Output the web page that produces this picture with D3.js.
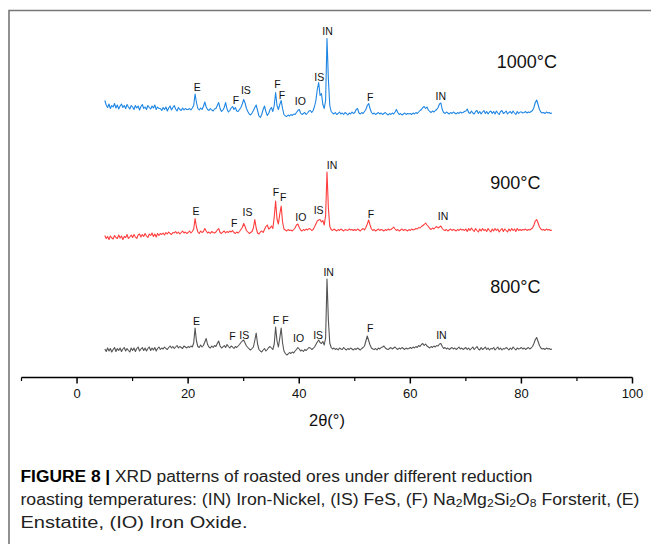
<!DOCTYPE html>
<html>
<head>
<meta charset="utf-8">
<script src="https://cdn.jsdelivr.net/npm/d3@7"></script>
<style>
  html, body { margin: 0; padding: 0; background: #fff; }
  svg { display: block; }
</style>
</head>
<body>
<svg id="chart" width="651" height="544"></svg>
<script>
// XRD scans: 2θ from 5° in 0.25° steps, intensity in arbitrary units
const twoThetaStart = 5;
const twoThetaStep = 0.25;

const temperatures = ["800°C", "900°C", "1000°C"];

const intensity800 = [
  18,13,20,14,19,12,17,21,13,19,15,20,13,18,21,14,19,15,12,20,
  15,20,13,19,22,14,18,21,15,20,14,19,22,15,20,16,21,14,19,22,
  17,20,18,22,19,17,21,24,20,23,19,22,25,20,23,21,19,24,22,20,
  23,21,24,22,30,60,34,23,21,26,22,25,32,39,27,22,20,24,21,25,
  23,29,34,24,20,22,25,21,27,23,20,24,22,19,23,21,24,27,31,34,
  36,30,24,21,18,16,19,22,35,50,28,17,14,12,16,19,14,17,21,23,
  20,17,28,62,34,22,40,60,30,14,9,6,8,11,9,12,10,14,17,21,
  18,14,16,13,17,15,18,21,20,17,19,22,27,32,36,31,29,33,26,40,
  158,75,30,21,18,20,17,19,16,20,18,17,21,18,16,19,17,20,18,16,
  19,17,20,18,16,19,21,24,34,44,35,26,20,18,17,19,16,20,18,21,
  22,24,20,18,17,19,21,18,20,22,19,17,20,18,21,19,17,20,18,19,
  21,19,22,20,23,21,25,23,27,29,25,28,24,22,20,23,21,24,22,25,
  24,28,29,23,19,21,18,20,17,19,21,18,20,17,19,22,18,20,17,19,
  21,17,20,16,19,22,17,20,23,18,16,21,17,19,22,17,20,16,19,18,
  21,16,19,22,17,20,16,19,18,21,19,16,20,17,22,19,16,20,18,19,
  21,18,20,17,19,21,18,20,23,29,37,41,33,25,20,18,19,17,20,18,
  19,17,18
];

const intensity900 = [
  15,9,13,7,14,10,8,15,11,9,16,10,14,7,13,11,17,9,12,16,
  11,17,12,9,16,18,12,17,13,19,14,11,18,15,20,13,18,12,19,15,
  19,17,20,16,21,18,22,19,17,21,20,23,19,22,18,21,24,20,22,19,
  21,24,20,23,28,49,32,22,19,24,21,23,29,24,20,22,19,23,21,20,
  22,26,29,21,19,22,24,20,23,21,24,22,25,21,19,22,20,23,27,31,
  39,33,25,22,19,21,23,30,47,30,20,18,22,24,21,27,33,36,28,30,
  34,29,52,84,48,38,58,74,42,28,26,24,27,25,26,24,27,30,36,38,
  31,26,24,27,25,28,26,29,28,25,27,32,38,44,46,47,42,45,36,55,
  142,70,33,27,25,28,26,24,27,25,28,26,24,27,26,25,28,26,27,25,
  27,25,28,26,24,27,29,26,31,38,46,36,28,25,27,24,26,28,25,27,
  26,24,27,25,28,26,27,29,32,28,25,27,24,26,28,25,27,26,24,27,
  25,28,26,27,29,28,31,30,33,35,37,40,36,33,29,27,30,28,31,33,
  30,32,34,29,26,25,27,24,26,28,25,27,26,24,27,25,28,26,27,25,
  28,23,29,25,30,26,23,29,25,22,28,24,29,25,27,23,29,25,22,28,
  24,29,25,28,22,26,29,23,28,25,22,28,24,29,25,28,23,29,25,27,
  25,27,26,28,25,27,26,28,30,36,44,47,40,32,28,26,27,25,28,26,
  27,25,26
];

const intensity1000 = [
  40,31,26,33,24,30,27,34,25,31,23,29,33,26,30,24,32,27,23,30,
  27,22,30,25,29,21,28,32,24,27,22,30,26,23,29,25,31,22,27,24,
  24,20,26,22,27,19,25,29,21,26,30,23,19,26,22,20,25,21,24,22,
  22,24,21,25,30,53,36,24,21,25,22,28,37,27,22,20,24,21,19,23,
  24,30,36,24,18,21,26,36,23,17,20,25,28,22,26,19,18,22,26,33,
  42,35,24,18,13,11,15,20,26,31,20,9,6,12,22,29,18,10,14,22,
  26,18,30,56,30,22,32,40,24,12,9,8,11,9,12,10,13,12,16,20,
  22,15,12,14,16,12,15,19,20,16,20,28,40,62,76,50,54,32,24,40,
  164,82,30,18,15,13,16,12,14,17,13,15,12,16,14,11,15,13,17,14,
  16,22,24,15,13,16,14,18,22,30,34,24,16,13,15,12,14,16,13,15,
  12,14,16,13,11,14,12,15,13,17,22,16,12,14,11,13,15,12,14,13,
  14,12,15,13,16,14,17,20,22,26,28,24,27,21,18,16,19,17,20,22,
  26,33,35,22,16,14,17,15,13,16,14,17,15,13,16,14,17,15,16,18,
  19,23,16,14,19,15,13,18,20,14,18,13,17,20,14,18,13,17,19,14,
  18,13,19,15,12,18,20,14,16,19,13,16,18,14,19,15,12,18,14,17,
  17,15,16,18,15,17,16,18,20,26,36,41,32,22,17,15,16,14,17,15,
  16,14,15
];

// Phase markers: [phase, 2θ, label level in intensity units]
const peaks800 = [
  ["E",21.5,74],["F",28.0,43],["IS",30.1,46],["F",35.8,76],["F",37.5,76],
  ["IO",39.9,39],["IS",43.4,46],["IN",45.3,171],["F",52.8,59],["IN",65.6,46]
];
const peaks900 = [
  ["E",21.4,64],["F",28.3,39],["IS",30.7,62],["F",35.8,101],["F",37.1,91],
  ["IO",40.3,51],["IS",43.5,66],["IN",45.9,156],["F",52.9,58],["IN",65.9,53]
];
const peaks1000 = [
  ["E",21.65,67],["F",28.6,41],["IS",30.4,61],["F",36.1,72],["F",36.9,51],
  ["IO",40.2,38],["IS",43.6,86],["IN",45.1,179],["F",52.8,46],["IN",65.5,48]
];

// Where each temperature tag sits: [2θ, intensity level]
const tagAt800 = [78.9, 143];
const tagAt900 = [78.9, 121];
const tagAt1000 = [81.0, 118];

const xMajorTicks = [0, 20, 40, 60, 80, 100];
const xMinorTicks = [-10, 10, 30, 50, 70, 90];
const xTitle = "2θ(°)";

const captionLine1 = [["FIGURE 8 | ", "bold"], ["XRD patterns of roasted ores under different reduction", ""]];
const captionLine2 = [
  ["roasting temperatures: (IN) Iron-Nickel, (IS) FeS, (F) Na", ""], ["2", "sub"],
  ["Mg", ""], ["2", "sub"], ["Si", ""], ["2", "sub"], ["O", ""], ["8", "sub"],
  [" Forsterit, (E)", ""]
];
const captionLine3 = [["Enstatite, (IO) Iron Oxide.", ""]];

// ---- drawing ----
const svg = d3.select("#chart");
const W = 651, H = 544;
svg.append("rect").attr("width", W).attr("height", H).attr("fill", "#fff");

// figure frame (top and left rules)
svg.append("path")
  .attr("d", `M9,${H} L9,10.5 L${W},10.5`)
  .attr("fill", "none").attr("stroke", "#777").attr("stroke-width", 1.6);

const x = d3.scaleLinear().domain([-10, 100]).range([21.5, 632.5]);
const y = d3.scaleLinear().domain([0, 700]).range([378, 28]);

const series = [
  { name: temperatures[0], values: intensity800, peaks: peaks800, tag: tagAt800, offset: 40, color: "#545454" },
  { name: temperatures[1], values: intensity900, peaks: peaks900, tag: tagAt900, offset: 270, color: "#ff3d3d" },
  { name: temperatures[2], values: intensity1000, peaks: peaks1000, tag: tagAt1000, offset: 515, color: "#1f86e3" }
];

const font = "'Liberation Sans', Arial, Helvetica, sans-serif";
const captionFont = "'Liberation Sans Narrow', 'Liberation Sans', Arial, sans-serif";

series.forEach(s => {
  const pts = s.values.map((v, i) => [twoThetaStart + i * twoThetaStep, v]);
  const line = d3.line()
    .x(d => x(d[0]))
    .y(d => y(s.offset + d[1]));
  svg.append("path")
    .datum(pts)
    .attr("d", line)
    .attr("fill", "none")
    .attr("stroke", s.color)
    .attr("stroke-width", 1.1)
    .attr("stroke-linejoin", "round");

  svg.append("g").selectAll("text")
    .data(s.peaks)
    .join("text")
    .attr("x", d => x(d[1]))
    .attr("y", d => y(s.offset + d[2]))
    .attr("dy", "0.36em")
    .attr("text-anchor", "middle")
    .attr("font-family", font)
    .attr("font-size", 10.5)
    .attr("fill", "#111")
    .text(d => d[0]);

  svg.append("text")
    .attr("x", x(s.tag[0]))
    .attr("y", y(s.offset + s.tag[1]))
    .attr("dy", "0.36em")
    .attr("text-anchor", "middle")
    .attr("font-family", font)
    .attr("font-size", 18)
    .attr("fill", "#111")
    .text(s.name);
});

// x axis
const axisY = 377.5;
const axisG = svg.append("g").attr("transform", `translate(0,${axisY})`);
axisG.append("line")
  .attr("x1", x(-10)).attr("x2", x(100))
  .attr("stroke", "#000").attr("stroke-width", 1.5);
axisG.selectAll("line.major")
  .data(xMajorTicks).join("line").attr("class", "major")
  .attr("x1", d => x(d)).attr("x2", d => x(d))
  .attr("y1", 0).attr("y2", 6)
  .attr("stroke", "#000").attr("stroke-width", 1.5);
axisG.selectAll("line.minor")
  .data(xMinorTicks).join("line").attr("class", "minor")
  .attr("x1", d => x(d)).attr("x2", d => x(d))
  .attr("y1", 0).attr("y2", 3.5)
  .attr("stroke", "#000").attr("stroke-width", 1.2);
axisG.selectAll("text.tick")
  .data(xMajorTicks).join("text").attr("class", "tick")
  .attr("x", d => x(d)).attr("y", 20.5)
  .attr("text-anchor", "middle")
  .attr("font-family", font).attr("font-size", 13)
  .attr("fill", "#111")
  .text(d => d);
svg.append("text")
  .attr("x", x(45)).attr("y", 426)
  .attr("text-anchor", "middle")
  .attr("font-family", font).attr("font-size", 16.5)
  .attr("fill", "#111")
  .text(xTitle);

// caption
function captionLine(parts, baseline, width) {
  const t = svg.append("text")
    .attr("x", 20.5).attr("y", baseline)
    .attr("font-family", captionFont).attr("font-size", 16)
    .attr("fill", "#222")
    .attr("textLength", width)
    .attr("lengthAdjust", "spacingAndGlyphs");
  parts.forEach(p => {
    const ts = t.append("tspan").text(p[0]);
    if (p[1] === "bold") ts.attr("font-weight", "bold").attr("fill", "#000");
    if (p[1] === "sub") ts.attr("font-size", 11).attr("baseline-shift", "-22%");
  });
}
captionLine(captionLine1, 482, 512);
captionLine(captionLine2, 505, 619);
captionLine(captionLine3, 528, 227);
</script>
</body>
</html>
